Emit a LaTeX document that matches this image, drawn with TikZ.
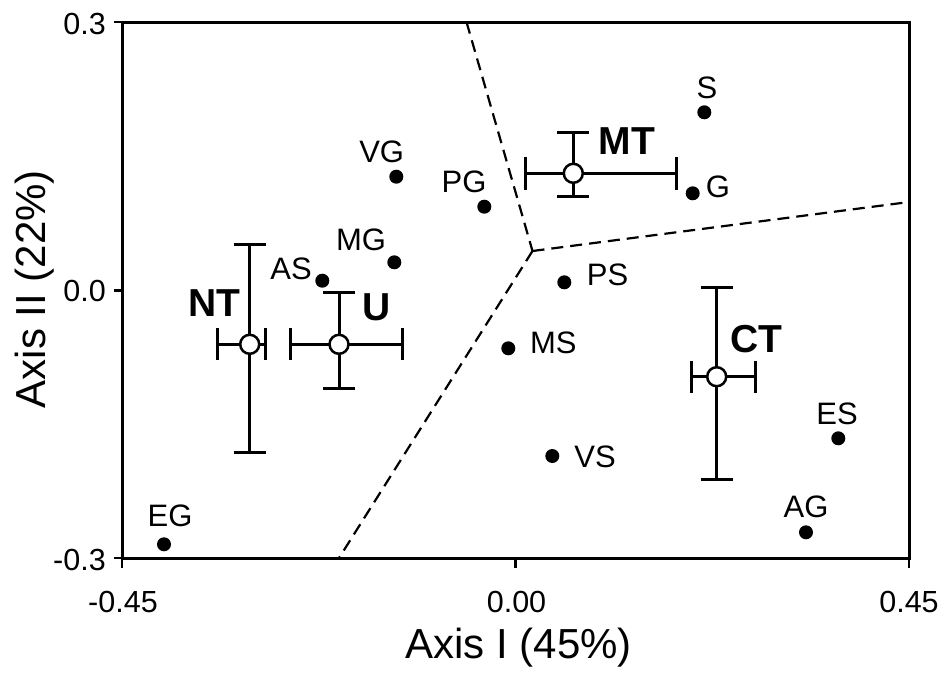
\documentclass[tikz,border=0pt]{standalone}
\usepackage{fontspec}
\setmainfont{Liberation Sans}
\begin{document}
\begin{tikzpicture}[x=1pt,y=-1pt,
  frame/.style={line width=3pt},
  tickline/.style={line width=2.6pt},
  bar/.style={line width=3pt},
  border/.style={line width=2.2pt, dash pattern=on 12pt off 7pt},
  dot/.style={circle, fill=black, inner sep=0pt, minimum size=14pt},
  centroid/.style={circle, draw=black, fill=white, line width=2.5pt, inner sep=0pt, minimum size=19pt},
  lab/.style={anchor=base, inner sep=0pt, font=\fontsize{31}{36}\selectfont},
  grp/.style={anchor=base, inner sep=0pt, font=\fontsize{39}{44}\selectfont\bfseries},
  ticklab/.style={inner sep=0pt, font=\fontsize{30.5}{36}\selectfont},
  axlab/.style={anchor=base, inner sep=0pt, font=\fontsize{42}{48}\selectfont}]
\useasboundingbox (0,0) rectangle (948,673);

% dashed discriminant borders
\coordinate (J) at (532.5,251);
\coordinate (Btop) at (466.5,22);
\coordinate (Bright) at (909,202);
\coordinate (Bbottom) at (339,558);
\draw[border] (Btop) -- (J);
\draw[border] (J) -- (Bright);
\draw[border] (J) -- (Bbottom);

% frame and ticks
\draw[frame] (122,22) rectangle (909,558);
\foreach \yy in {22,290.5,558} \draw[tickline] (113.5,\yy) -- (122,\yy);
\foreach \xx in {122,515.5,909} \draw[tickline] (\xx,558) -- (\xx,568);

% tick labels
\node[ticklab, anchor=base east] (t1) at (106,34) {0.3};
\node[ticklab, anchor=base east] (t2) at (106,301.5) {0.0};
\node[ticklab, anchor=base east] (t3) at (106,570) {-0.3};
\node[ticklab, anchor=base] (t4) at (123,612.5) {-0.45};
\node[ticklab, anchor=base] (t5) at (516.5,612.5) {0.00};
\node[ticklab, anchor=base] (t6) at (909,612.5) {0.45};

% axis labels
\node[axlab] (ax1) at (518.8,658) {Axis I (45\%)};
\node[axlab, rotate=90] (ax2) at (45,289) {Axis II (22\%)};

% points
\node[dot] (S) at (704.3,112.3) {};
\node[dot] (G) at (692.7,193.3) {};
\node[dot] (VG) at (396.3,176.7) {};
\node[dot] (PG) at (484.3,206.7) {};
\node[dot] (MG) at (394.3,262.3) {};
\node[dot] (AS) at (322.3,280.7) {};
\node[dot] (PS) at (564.3,282.3) {};
\node[dot] (MS) at (508.3,348.3) {};
\node[dot] (VS) at (552.3,456) {};
\node[dot] (ES) at (838.3,438.3) {};
\node[dot] (AG) at (806,532.3) {};
\node[dot] (EG) at (164,544.3) {};

\node[lab] (lS) at (707,98) {S};
\node[lab] (lG) at (718,197) {G};
\node[lab] (lVG) at (381.7,162) {VG};
\node[lab] (lPG) at (464,192.5) {PG};
\node[lab] (lMG) at (361,250) {MG};
\node[lab] (lAS) at (291,279) {AS};
\node[lab] (lPS) at (607.5,285.5) {PS};
\node[lab] (lMS) at (553.3,353) {MS};
\node[lab] (lVS) at (595,467) {VS};
\node[lab] (lES) at (837,424) {ES};
\node[lab] (lAG) at (806,517) {AG};
\node[lab] (lEG) at (170,526) {EG};

% error bars: MT
\draw[bar] (525.7,173.3) -- (676,173.3);
\draw[bar] (525.7,157) -- (525.7,189.5);
\draw[bar] (676,157) -- (676,189.5);
\draw[bar] (573.3,132.3) -- (573.3,196.7);
\draw[bar] (557.3,132.3) -- (589.3,132.3);
\draw[bar] (557.3,196.7) -- (589.3,196.7);
% NT
\draw[bar] (217.3,344.3) -- (265.7,344.3);
\draw[bar] (217.3,328.3) -- (217.3,360.3);
\draw[bar] (265.7,328.3) -- (265.7,360.3);
\draw[bar] (249.7,244.3) -- (249.7,452.3);
\draw[bar] (233.7,244.3) -- (265.7,244.3);
\draw[bar] (233.7,452.3) -- (265.7,452.3);
% U
\draw[bar] (290,344.3) -- (402.3,344.3);
\draw[bar] (290,328.3) -- (290,360.3);
\draw[bar] (402.3,328.3) -- (402.3,360.3);
\draw[bar] (339,292.3) -- (339,388.3);
\draw[bar] (323,292.3) -- (355,292.3);
\draw[bar] (323,388.3) -- (355,388.3);
% CT
\draw[bar] (691.7,376.7) -- (755.7,376.7);
\draw[bar] (691.7,360.7) -- (691.7,392.7);
\draw[bar] (755.7,360.7) -- (755.7,392.7);
\draw[bar] (716.7,287.3) -- (716.7,479.3);
\draw[bar] (700.7,287.3) -- (732.7,287.3);
\draw[bar] (700.7,479.3) -- (732.7,479.3);

% centroids
\node[centroid] (MT) at (573.3,173.3) {};
\node[centroid] (NT) at (249.7,344.3) {};
\node[centroid] (U) at (339,344.3) {};
\node[centroid] (CT) at (716.7,376.7) {};

\node[grp] (lMT) at (627,154) {MT};
\node[grp] (lNT) at (214.3,316.5) {NT};
\node[grp] (lU) at (376.8,320.5) {U};
\node[grp] (lCT) at (756,352) {CT};
\end{tikzpicture}
\end{document}
